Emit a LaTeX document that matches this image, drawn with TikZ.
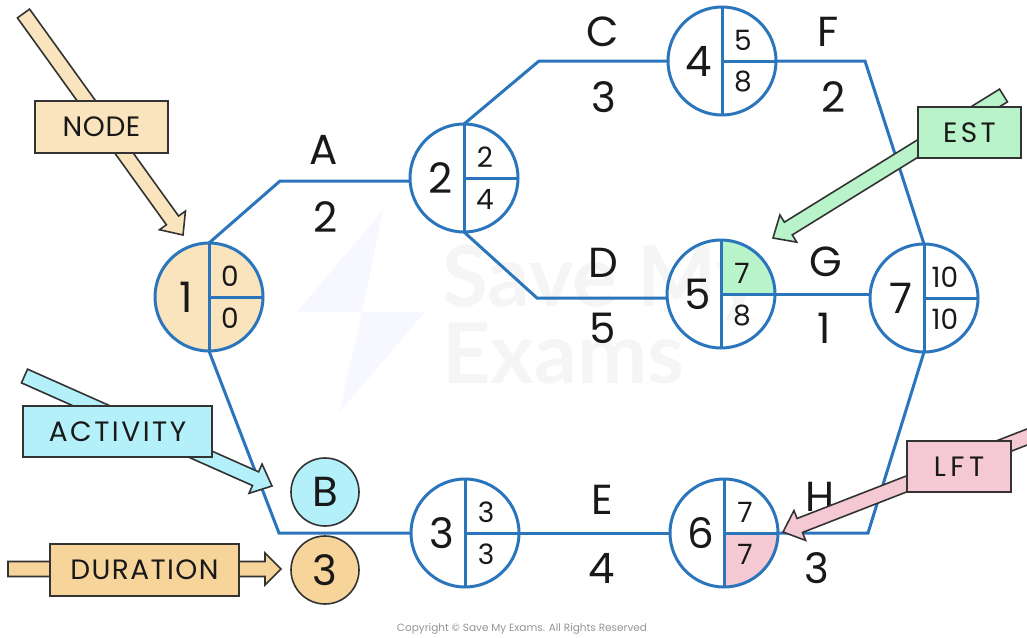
\documentclass[tikz,border=0pt]{standalone}
\usepackage{fontspec}
\setmainfont{Poppins}
\newfontfamily\markfont{Lato}
\usetikzlibrary{calc}
\definecolor{netblue}{HTML}{2A75BB}
\definecolor{nodefill}{HTML}{F9E4BD}
\definecolor{actfill}{HTML}{B3F0FA}
\definecolor{durfill}{HTML}{F7D59A}
\definecolor{estfill}{HTML}{B9F3C9}
\definecolor{lftfill}{HTML}{F5C9D3}
\definecolor{edgedark}{HTML}{333333}
\newcommand{\spaced}[2]{{\addfontfeature{LetterSpace=#1}#2}}
\tikzset{
  netnode/.style={circle,draw=netblue,line width=3pt,minimum size=108pt,inner sep=0pt,outer sep=0pt},
  netline/.style={draw=netblue,line width=3pt,line join=miter},
  bigtxt/.style={font=\fontsize{42}{42}\selectfont,text=black!90,inner sep=0pt},
  smalltxt/.style={font=\fontsize{28}{28}\selectfont,text=black!90,inner sep=0pt},
  tagbox/.style={draw=edgedark,line width=1.8pt,inner sep=0pt,font=\fontsize{28}{28}\selectfont,text=black!90},
  tagarrow/.style={draw=edgedark,line width=1.6pt,line join=miter},
  keycircle/.style={circle,draw=edgedark,line width=1.6pt,minimum size=68pt,inner sep=0pt,font=\fontsize{42}{42}\selectfont,text=black!90},
  marktxt/.style={anchor=west,inner sep=0pt,text=black!4,font=\fontsize{84}{84}\selectfont\markfont\bfseries},
}
% tail, tip, fill colour, head half width, head length
\newcommand{\blockarrow}[5]{%
  \coordinate (hb) at ($(#2)!#5pt!(#1)$);
  \draw[tagarrow,fill=#3]
    ($(#1)!7.5pt!90:(#2)$) -- ($(hb)!7.5pt!90:(#2)$) -- ($(hb)!#4pt!90:(#2)$) -- (#2)
    -- ($(hb)!#4pt!-90:(#2)$) -- ($(hb)!7.5pt!-90:(#2)$) -- ($(#1)!7.5pt!-90:(#2)$) -- cycle;
}
% name, x, y
\newcommand{\netnode}[3]{\node[netnode] (#1) at (#2,#3) {};}
% name, main, upper, lower
\newcommand{\netparts}[4]{%
  \draw[netline] (#1.north) -- (#1.south);
  \draw[netline] (#1.center) -- (#1.east);
  \node[bigtxt,anchor=center] at ($(#1.center)+(-23,0)$) {#2};
  \node[smalltxt,anchor=center] at ($(#1.center)+(21,-21)$) {#3};
  \node[smalltxt,anchor=center] at ($(#1.center)+(21,21)$) {#4};
}
\begin{document}
\begin{tikzpicture}[x=1pt,y=-1pt]
\useasboundingbox (0,0) rectangle (1027,637);
% watermark
\fill[color=blue!3] (383,210) -- (297,312) -- (362,312) -- cycle;
\fill[color=blue!3] (425,312) -- (339,413) -- (362,312) -- cycle;
\node[marktxt] (wm1) at (442,283) {Save My};
\node[marktxt] (wm2) at (442,353) {Exams};
\node[inner sep=0pt,text=black!42,font=\fontsize{10.5}{10.5}\selectfont] (copy) at (522,629) {Copyright © Save My Exams. All Rights Reserved};
% highlighted sectors (under the rings)
\coordinate (c1) at (209,297);
\coordinate (c5) at (721,294);
\coordinate (c6) at (724,533);
\fill[nodefill] (c1) circle[radius=53pt];
\fill[estfill] (c5) -- ($(c5)+(53,0)$) arc[start angle=0,end angle=90,radius=53pt] -- cycle;
\fill[lftfill] (c6) -- ($(c6)+(53,0)$) arc[start angle=0,end angle=-90,radius=53pt] -- cycle;
% nodes
\netnode{n1}{209}{297}
\netnode{n2}{464}{178}
\netnode{n3}{465}{533}
\netnode{n4}{722}{61}
\netnode{n5}{721}{294}
\netnode{n6}{724}{533}
\netnode{n7}{924}{298}
% connectors
\coordinate (ba) at (280,181);
\coordinate (bc) at (539,61);
\coordinate (bd) at (537,298);
\coordinate (bf) at (865,61);
\coordinate (bb) at (279,533);
\coordinate (bh) at (868,533);
\draw[netline] (n1.north) -- (ba) -- (ba -| n2.west);
\draw[netline] (n2.north) -- (bc) -- (bc -| n4.west);
\draw[netline] (n2.south) -- (bd) -- (bd -| n5.west);
\draw[netline] (n4.east) -- (bf) -- (n7.north);
\draw[netline] (n5.east) -- (n5.east -| n7.west);
\draw[netline] (n1.south) -- (bb) -- (n3.west);
\draw[netline] (n3.east) -- (n6.west);
\draw[netline] (n6.east) -- (bh) -- (n7.south);
% node parts
\netparts{n1}{1}{0}{0}
\netparts{n2}{2}{2}{4}
\netparts{n3}{3}{3}{3}
\netparts{n4}{4}{5}{8}
\netparts{n5}{5}{7}{8}
\netparts{n6}{6}{7}{7}
\netparts{n7}{7}{10}{10}
% activity labels
\node[bigtxt] (la) at (324,150) {A};
\node[bigtxt] (da) at (326,217) {2};
\node[bigtxt] (lc) at (603,32) {C};
\node[bigtxt] (dc) at (604,97) {3};
\node[bigtxt] (lf) at (828,32) {F};
\node[bigtxt] (df) at (834,97) {2};
\node[bigtxt] (ld) at (603,263) {D};
\node[bigtxt] (dd) at (603,328) {5};
\node[bigtxt] (lg) at (826,262) {G};
\node[bigtxt] (dg) at (824,328) {1};
\node[bigtxt] (le) at (602,500) {E};
\node[bigtxt] (de) at (602,568) {4};
\node[bigtxt] (lh) at (820,497) {H};
\node[bigtxt] (dh) at (817,568) {3};
% key circles
\node[keycircle,fill=actfill] (kb) at (325,492) {B};
\node[keycircle,fill=durfill] (k3) at (325,570) {3};
% tag arrows
\coordinate (ta) at (23.5,13.5); \coordinate (tb) at (183,235);
\blockarrow{ta}{tb}{nodefill}{16}{18}
\coordinate (tc) at (24.5,376); \coordinate (td) at (272,486);
\blockarrow{tc}{td}{actfill}{16}{18}
\coordinate (te) at (8,569); \coordinate (tf) at (281,569);
\blockarrow{te}{tf}{durfill}{16}{16}
\coordinate (tg) at (1003.5,95.5); \coordinate (th) at (773,238);
\blockarrow{tg}{th}{estfill}{16}{18}
\coordinate (ti) at (1045,430); \coordinate (tj) at (783,532);
\blockarrow{ti}{tj}{lftfill}{16}{18}
% tag boxes
\node[tagbox,fill=nodefill,minimum width=133pt,minimum height=52pt] (bnode) at (101.5,127) {\spaced{2}{NODE}};
\node[tagbox,fill=actfill,minimum width=189pt,minimum height=51pt] (bact) at (117.5,431.5) {\spaced{9}{ACTIVITY}};
\node[tagbox,fill=durfill,minimum width=189pt,minimum height=52pt] (bdur) at (144.5,570) {\spaced{5}{DURATION}};
\node[tagbox,fill=estfill,minimum width=103pt,minimum height=51pt] (best) at (969.5,132.5) {\spaced{12}{EST}};
\node[tagbox,fill=lftfill,minimum width=104pt,minimum height=51pt] (blft) at (959,466.5) {\spaced{16}{LFT}};
\end{tikzpicture}
\end{document}
